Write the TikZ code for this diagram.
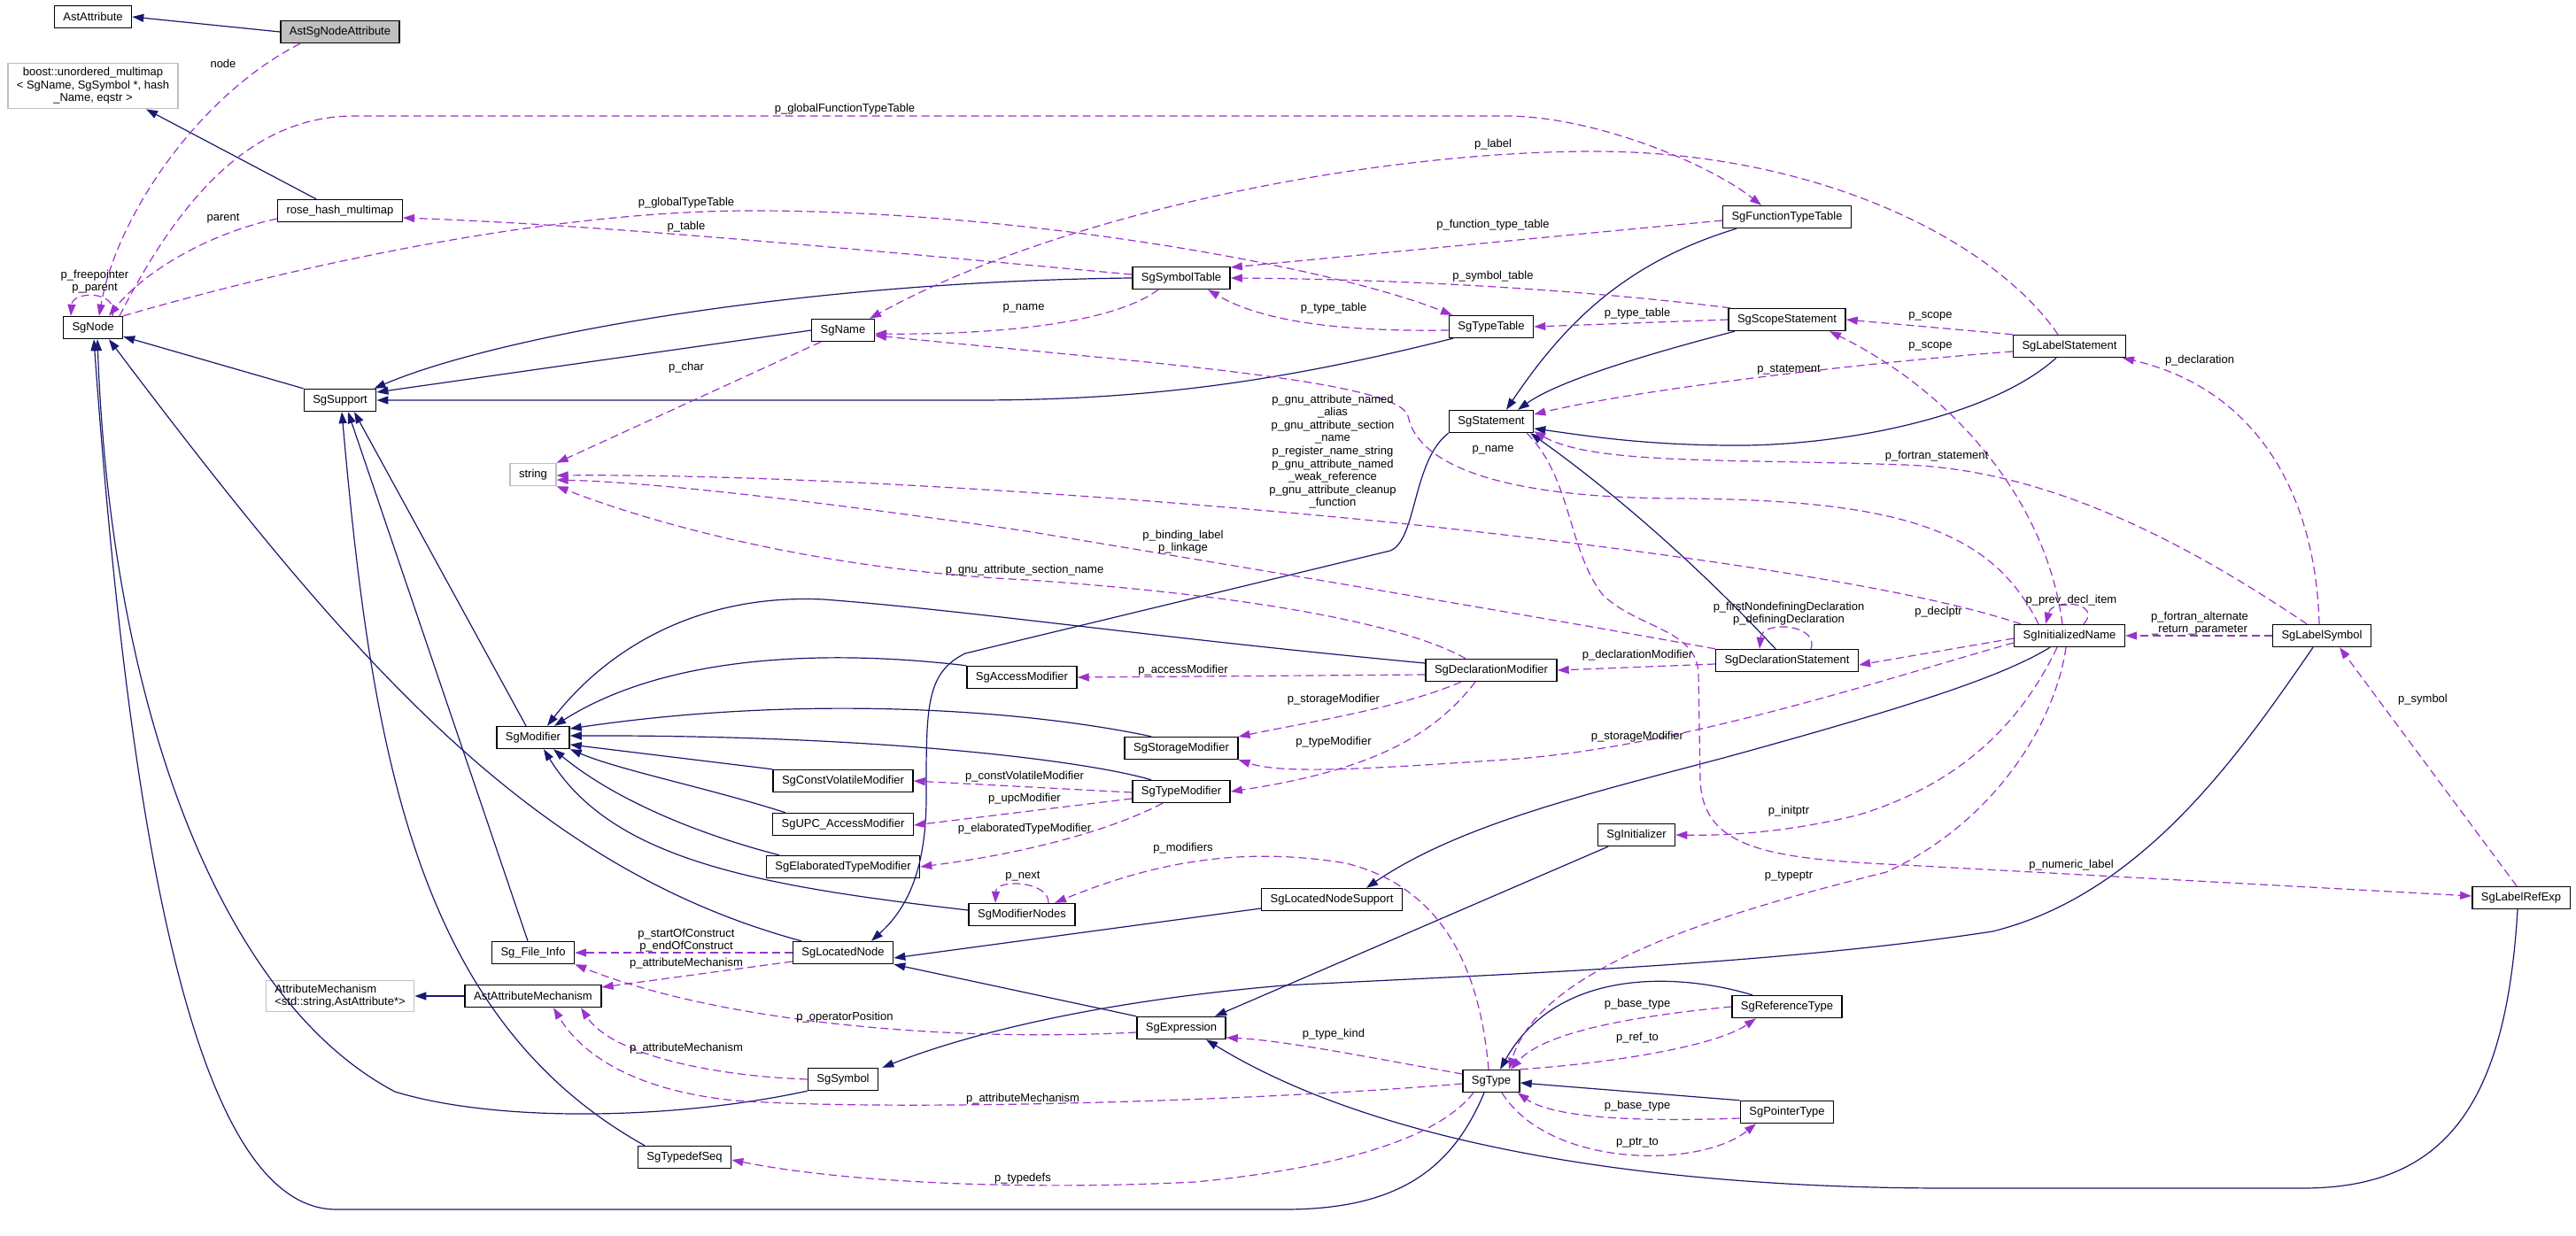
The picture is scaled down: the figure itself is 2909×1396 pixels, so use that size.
\documentclass[tikz,border=0pt]{standalone}
\usepackage{fontspec}
\setmainfont{Liberation Sans}
\usetikzlibrary{arrows.meta}
\definecolor{inherit}{HTML}{191970}
\definecolor{usage}{HTML}{9A32CD}
\definecolor{extgray}{HTML}{BFBFBF}

\begin{document}
\begin{tikzpicture}[x=1pt,y=-1pt,
  every node/.style={font=\fontsize{13}{14.6}\selectfont},
  cls/.style={draw=black, line width=1.4pt, fill=white, inner xsep=10pt, inner ysep=0pt, minimum height=25pt},
  ext/.style={cls, draw=extgray},
  base/.style={draw=inherit, line width=1.2pt, -{Triangle[length=13pt,width=9pt]}},
  uses/.style={draw=usage, line width=1.2pt, dash pattern=on 9pt off 5pt, -{Triangle[length=13pt,width=9pt]}},
  lbl/.style={inner sep=0pt, align=center}]
\path[use as bounding box, fill=white] (0,0) rectangle (2909,1396);

% classes
\node[cls] (AstAttribute) at (105,19) {AstAttribute};
\node[cls, fill=extgray] (AstSgNodeAttribute) at (384,36) {AstSgNodeAttribute};
\node[ext, align=center, inner ysep=5pt] (boost) at (105,97) {boost::unordered\_multimap\\< SgName, SgSymbol *, hash\\\_Name, eqstr >};
\node[cls] (rosemap) at (384,238) {rose\_hash\_multimap};
\node[cls] (SgNode) at (105,370) {SgNode};
\node[cls] (SgSupport) at (384,452) {SgSupport};
\node[ext] (str) at (602,536) {string};
\node[cls] (SgModifier) at (602,833) {SgModifier};
\node[cls] (SgFileInfo) at (602,1076) {Sg\_File\_Info};
\node[ext, align=left, inner ysep=4pt] (AttrMech) at (384,1125) {AttributeMechanism\\<std::string,AstAttribute*>};
\node[cls] (AAM) at (602,1125) {AstAttributeMechanism};
\node[cls] (TypedefSeq) at (773,1307) {SgTypedefSeq};
\node[cls] (SgName) at (952,373) {SgName};
\node[cls] (CVModifier) at (952,882) {SgConstVolatileModifier};
\node[cls] (UPCModifier) at (952,931) {SgUPC\_AccessModifier};
\node[cls] (ElabModifier) at (952,979) {SgElaboratedTypeModifier};
\node[cls] (LocatedNode) at (952,1076) {SgLocatedNode};
\node[cls] (SgSymbol) at (952,1219) {SgSymbol};
\node[cls] (AccessModifier) at (1154,765) {SgAccessModifier};
\node[cls] (ModifierNodes) at (1154,1033) {SgModifierNodes};
\node[cls] (SymbolTable) at (1334,314) {SgSymbolTable};
\node[cls] (StorageModifier) at (1334,845) {SgStorageModifier};
\node[cls] (TypeModifier) at (1334,894) {SgTypeModifier};
\node[cls] (SgExpression) at (1334,1161) {SgExpression};
\node[cls] (LNSupport) at (1504,1016) {SgLocatedNodeSupport};
\node[cls] (TypeTable) at (1684,369) {SgTypeTable};
\node[cls] (SgStatement) at (1684,476) {SgStatement};
\node[cls] (DeclModifier) at (1684,757) {SgDeclarationModifier};
\node[cls] (SgType) at (1684,1221) {SgType};
\node[cls] (SgInitializer) at (1848,943) {SgInitializer};
\node[cls] (FTT) at (2018,245) {SgFunctionTypeTable};
\node[cls] (Scope) at (2018,361) {SgScopeStatement};
\node[cls] (DeclStatement) at (2018,746) {SgDeclarationStatement};
\node[cls] (RefType) at (2018,1137) {SgReferenceType};
\node[cls] (PointerType) at (2018,1256) {SgPointerType};
\node[cls] (LabelStatement) at (2337,391) {SgLabelStatement};
\node[cls] (InitName) at (2337,718) {SgInitializedName};
\node[cls] (LabelSymbol) at (2622,718) {SgLabelSymbol};
\node[cls] (LabelRefExp) at (2847,1014) {SgLabelRefExp};

% inheritance
\draw[base] (AstSgNodeAttribute.west) -- (AstAttribute.east);
\draw[base] ([xshift=-27]rosemap.north) -- ([xshift=60]boost.south);
\draw[base] (SgSupport.north west) -- ([yshift=3]SgNode.south east);
\draw[base] (SymbolTable.west) .. controls (900,318) and (560,380) .. ([xshift=-3]SgSupport.north east);
\draw[base] (SgName.west) -- ([yshift=9]SgSupport.east);
\draw[base] ([xshift=5]TypeTable.south west) .. controls (1450,430) and (1300,452) .. (1100,452) -- (SgSupport.east);
\draw[base] ([xshift=-8]SgModifier.north) -- ([xshift=16]SgSupport.south);
\draw[base] ([xshift=-6]SgFileInfo.north) -- ([xshift=9]SgSupport.south);
\draw[base] ([xshift=-45]TypedefSeq.north) .. controls (470,1150) and (420,850) .. ([xshift=2]SgSupport.south);
\draw[base] ([xshift=-47]LocatedNode.north) .. controls (600,980) and (400,750) .. ([xshift=18]SgNode.south);
\draw[base] (SgSymbol.south west) .. controls (760,1265) and (560,1268) .. (446,1233) .. controls (250,1130) and (125,800) .. ([xshift=5]SgNode.south);
\draw[base] ([xshift=-8]SgType.south) .. controls (1640,1320) and (1580,1366) .. (1450,1366) -- (380,1366) .. controls (230,1366) and (150,1000) .. ([xshift=1]SgNode.south);
\draw[base] (SgStatement.south west) .. controls (1595,520) and (1600,610) .. (1570,622) -- (1090,738) .. controls (1045,760) and (1046,800) .. (1046,900) .. controls (1046,990) and (1020,1030) .. ([xshift=32]LocatedNode.north);
\draw[base] ([xshift=-57]FTT.south) .. controls (1840,295) and (1770,360) .. ([xshift=17]SgStatement.north);
\draw[base] ([xshift=-59]Scope.south) .. controls (1860,400) and (1760,430) .. ([xshift=30]SgStatement.north);
\draw[base] ([xshift=-15]LabelStatement.south) .. controls (2250,470) and (2080,505) .. (1950,503) .. controls (1850,502) and (1790,492) .. ([yshift=-8]SgStatement.east);
\draw[base] ([xshift=-13]DeclStatement.north) .. controls (1900,620) and (1800,540) .. ([xshift=-4]SgStatement.south east);
\draw[base] ([xshift=-22]InitName.south) .. controls (2260,765) and (2150,800) .. (1950,855) .. controls (1800,895) and (1650,930) .. ([xshift=39]LNSupport.north);
\draw[base] ([yshift=-10]LNSupport.west) -- ([yshift=-6]LocatedNode.east);
\draw[base] (SgExpression.north west) -- (LocatedNode.south east);
\draw[base] ([xshift=-10]LabelSymbol.south) .. controls (2530,850) and (2420,1010) .. (2250,1052) .. controls (2000,1090) and (1700,1100) .. (1450,1113) .. controls (1250,1130) and (1100,1165) .. ([xshift=4]SgSymbol.north east);
\draw[base] ([xshift=-4]LabelRefExp.south) .. controls (2830,1250) and (2760,1342) .. (2600,1342) -- (2200,1342) .. controls (1850,1342) and (1550,1290) .. ([xshift=28]SgExpression.south);
\draw[base] ([xshift=-32]SgInitializer.south) -- ([xshift=38]SgExpression.north);
\draw[base] ([xshift=-39]RefType.north) .. controls (1900,1100) and (1760,1090) .. ([xshift=10]SgType.north);
\draw[base] (PointerType.north west) -- ([yshift=-2]SgType.east);
\draw[base] (AAM.west) -- (AttrMech.east);
\draw[base] ([yshift=8]DeclModifier.west) .. controls (1300,720) and (1100,690) .. (930,677) .. controls (780,670) and (680,740) .. ([xshift=16]SgModifier.north);
\draw[base] (AccessModifier.north west) .. controls (950,735) and (760,735) .. ([xshift=24]SgModifier.north);
\draw[base] ([xshift=-34]StorageModifier.north) .. controls (1150,800) and (900,785) .. ([yshift=10]SgModifier.east);
\draw[base] ([xshift=-34]TypeModifier.north) .. controls (1230,860) and (1000,830) .. ([yshift=2]SgModifier.east);
\draw[base] (CVModifier.north west) -- ([yshift=-8]SgModifier.east);
\draw[base] ([xshift=-65]UPCModifier.north) .. controls (800,890) and (700,870) .. (SgModifier.south east);
\draw[base] ([xshift=-72]ElabModifier.north) .. controls (780,940) and (690,900) .. ([xshift=23]SgModifier.south);
\draw[base] ([yshift=5]ModifierNodes.west) .. controls (850,1000) and (690,970) .. ([xshift=12]SgModifier.south);

% members
\draw[uses] ([xshift=-45]AstSgNodeAttribute.south) .. controls (220,110) and (130,250) .. ([xshift=7]SgNode.north);
\draw[uses] ([yshift=-9]rosemap.west) .. controls (230,265) and (160,310) .. ([xshift=18]SgNode.north);
\draw[uses] ([xshift=22]SgNode.north) .. controls (135,328) and (82,328) .. ([xshift=-25]SgNode.north);
\draw[uses] ([xshift=30]SgNode.north) .. controls (200,230) and (280,131) .. (400,131) -- (1700,131) .. controls (1800,131) and (1930,185) .. ([xshift=-29]FTT.north);
\draw[uses] (SgNode.north east) .. controls (300,310) and (600,238) .. (850,238) .. controls (1150,238) and (1500,300) .. ([xshift=-44]TypeTable.north);
\draw[uses] ([yshift=4]SymbolTable.west) .. controls (1000,285) and (700,255) .. ([yshift=-8]rosemap.east);
\draw[uses] ([yshift=-4]FTT.west) -- ([yshift=12]SymbolTable.east);
\draw[uses] ([xshift=-64]Scope.north) .. controls (1850,335) and (1650,316) .. (SymbolTable.east);
\draw[uses] ([yshift=-4]TypeTable.west) .. controls (1500,375) and (1420,360) .. ([xshift=30]SymbolTable.south);
\draw[uses] (Scope.west) -- (TypeTable.east);
\draw[uses] ([xshift=-26]SymbolTable.south) .. controls (1250,370) and (1100,378) .. ([yshift=-4]SgName.east);
\draw[uses] ([xshift=-13]LabelStatement.north) .. controls (2250,270) and (2050,171) .. (1800,171) .. controls (1550,171) and (1200,240) .. ([xshift=30]SgName.north);
\draw[uses] ([xshift=-25]SgName.south) -- (str.north east);
\draw[uses] ([xshift=-55]InitName.north) .. controls (2150,660) and (1850,620) .. (1600,593) .. controls (1300,562) and (900,535) .. ([yshift=-1]str.east);
\draw[uses] (DeclStatement.north west) .. controls (1700,690) and (1400,640) .. (1160,600) .. controls (950,570) and (750,545) .. ([yshift=-6]str.east);
\draw[uses] ([xshift=-29]DeclModifier.north) .. controls (1600,712) and (1450,675) .. (1160,655) .. controls (950,645) and (760,600) .. (str.south east);
\draw[uses] ([xshift=-8]InitName.north) .. controls (2310,560) and (2200,440) .. ([xshift=48]Scope.south);
\draw[uses] ([xshift=-35]InitName.north) .. controls (2250,600) and (2150,565) .. (1900,563) .. controls (1680,563) and (1600,520) .. (1590,470) .. controls (1580,430) and (1300,410) .. ([yshift=-6]SgName.east);
\draw[uses] ([xshift=16]InitName.north) .. controls (2375,680) and (2318,675) .. ([xshift=-27]InitName.north);
\draw[uses] ([yshift=-3]InitName.west) -- ([yshift=-5]DeclStatement.east);
\draw[uses] ([yshift=-8]InitName.west) .. controls (2150,760) and (1900,845) .. (1700,858) .. controls (1550,868) and (1450,875) .. (StorageModifier.south east);
\draw[uses] ([xshift=-34]DeclModifier.south) .. controls (1580,800) and (1480,815) .. ([yshift=13]StorageModifier.east);
\draw[uses] ([xshift=-18]DeclModifier.south) .. controls (1620,830) and (1550,870) .. (TypeModifier.east);
\draw[uses] ([yshift=-5]DeclModifier.west) -- (AccessModifier.east);
\draw[uses] ([yshift=-4]DeclStatement.west) -- (DeclModifier.east);
\draw[uses] ([xshift=27]DeclStatement.north) .. controls (2055,705) and (1990,700) .. ([xshift=-31]DeclStatement.north);
\draw[uses] ([xshift=-14]InitName.south) .. controls (2290,800) and (2230,880) .. (2100,920) .. controls (2020,940) and (1950,944) .. (SgInitializer.east);
\draw[uses] ([xshift=-4]InitName.south) .. controls (2320,820) and (2250,930) .. (2130,985) .. controls (1950,1030) and (1740,1090) .. ([xshift=20]SgType.north);
\draw[uses] (LabelSymbol.west) -- (InitName.east);
\draw[uses] ([xshift=-3]LabelSymbol.north) .. controls (2615,560) and (2550,440) .. ([xshift=60]LabelStatement.south);
\draw[uses] ([xshift=-17]LabelSymbol.north) .. controls (2450,600) and (2300,530) .. (2150,525) .. controls (1950,518) and (1800,525) .. ([yshift=2]SgStatement.south east);
\draw[uses] (LabelStatement.north west) -- (Scope.east);
\draw[uses] ([yshift=-6]LabelStatement.west) .. controls (2100,410) and (1850,440) .. ([yshift=8]SgStatement.east);
\draw[uses] ([xshift=-5]LabelRefExp.north) -- ([xshift=20]LabelSymbol.south);
\draw[uses] ([xshift=-8]SgStatement.south east) .. controls (1775,540) and (1770,620) .. (1810,672) .. controls (1850,710) and (1915,710) .. (1918,760) -- (1920,880) .. controls (1922,960) and (2000,970) .. (2150,977) -- ([yshift=2]LabelRefExp.west);
\draw[uses] ([yshift=8]SgType.west) .. controls (1550,1195) and (1450,1175) .. ([yshift=-11]SgExpression.east);
\draw[uses] ([yshift=-3]SgType.west) .. controls (1400,1245) and (1000,1255) .. (830,1243) .. controls (700,1230) and (650,1180) .. ([xshift=23]AAM.south);
\draw[uses] (SgSymbol.west) .. controls (800,1215) and (690,1190) .. ([xshift=54]AAM.south);
\draw[uses] (LocatedNode.west) -- (SgFileInfo.east);
\draw[uses] ([yshift=-10]LocatedNode.west) -- ([yshift=10]AAM.east);
\draw[uses] ([yshift=-5]SgExpression.west) .. controls (1050,1178) and (800,1150) .. (SgFileInfo.south east);
\draw[uses] ([yshift=-1]TypeModifier.west) -- (CVModifier.east);
\draw[uses] ([yshift=-8]TypeModifier.west) -- ([yshift=-1]UPCModifier.east);
\draw[uses] ([xshift=-21]TypeModifier.south) .. controls (1250,940) and (1150,965) .. (ElabModifier.east);
\draw[uses] ([xshift=30]ModifierNodes.north) .. controls (1185,995) and (1125,992) .. ([xshift=-30]ModifierNodes.north);
\draw[uses] ([xshift=-3]SgType.north) .. controls (1670,1080) and (1620,1000) .. (1520,975) .. controls (1400,955) and (1300,975) .. ([xshift=37]ModifierNodes.north);
\draw[uses] ([xshift=-20]SgType.south) .. controls (1620,1290) and (1500,1320) .. (1350,1335) .. controls (1150,1345) and (950,1335) .. ([yshift=-3]TypedefSeq.east);
\draw[uses] (RefType.west) .. controls (1820,1150) and (1740,1170) .. ([xshift=22]SgType.north);
\draw[uses] (SgType.north east) .. controls (1830,1200) and (1940,1180) .. ([xshift=-35]RefType.south);
\draw[uses] ([yshift=-7]PointerType.west) .. controls (1830,1268) and (1750,1260) .. ([xshift=-3]SgType.south east);
\draw[uses] ([xshift=12]SgType.south) .. controls (1750,1320) and (1920,1320) .. ([xshift=-35]PointerType.south);

% member names
\node[lbl] (lnode) at (252,72) {node};
\node[lbl] (lparent) at (252,247) {parent};
\node[lbl] (lfree) at (107,318) {p\_freepointer\\p\_parent};
\node[lbl] (lgft) at (954,123) {p\_globalFunctionTypeTable};
\node[lbl] (lgtt) at (775,229) {p\_globalTypeTable};
\node[lbl] (ltable) at (775,256) {p\_table};
\node[lbl] (lchar) at (775,415) {p\_char};
\node[lbl] (lname) at (1156,348) {p\_name};
\node[lbl] (llabel) at (1686,163) {p\_label};
\node[lbl] (lftt) at (1686,254) {p\_function\_type\_table};
\node[lbl] (lsymtab) at (1686,312) {p\_symbol\_table};
\node[lbl] (ltypetab) at (1506,348) {p\_type\_table};
\node[lbl] (ltypetabb) at (1849,354) {p\_type\_table};
\node[lbl] (lscope) at (2180,357) {p\_scope};
\node[lbl] (lscopeb) at (2180,391) {p\_scope};
\node[lbl] (lstmt) at (2020,418) {p\_statement};
\node[lbl] (ldecl) at (2484,407) {p\_declaration};
\node[lbl] (lnameb) at (1686,508) {p\_name};
\node[lbl] (lgnu) at (1505,510) {p\_gnu\_attribute\_named\\\_alias\\p\_gnu\_attribute\_section\\\_name\\p\_register\_name\_string\\p\_gnu\_attribute\_named\\\_weak\_reference\\p\_gnu\_attribute\_cleanup\\\_function};
\node[lbl] (lfstmt) at (2187,515) {p\_fortran\_statement};
\node[lbl] (lbind) at (1336,612) {p\_binding\_label\\p\_linkage};
\node[lbl] (lsect) at (1157,644) {p\_gnu\_attribute\_section\_name};
\node[lbl] (laccess) at (1336,757) {p\_accessModifier};
\node[lbl] (ldeclmod) at (1849,740) {p\_declarationModifier};
\node[lbl] (ldefining) at (2020,693) {p\_firstNondefiningDeclaration\\p\_definingDeclaration};
\node[lbl] (ldeclptr) at (2189,691) {p\_declptr};
\node[lbl] (lprev) at (2339,678) {p\_prev\_decl\_item};
\node[lbl] (lalt) at (2484,704) {p\_fortran\_alternate\\\_return\_parameter};
\node[lbl] (lstor) at (1506,790) {p\_storageModifier};
\node[lbl] (ltypemod) at (1506,838) {p\_typeModifier};
\node[lbl] (lstorb) at (1849,832) {p\_storageModifier};
\node[lbl] (lcv) at (1157,877) {p\_constVolatileModifier};
\node[lbl] (lupc) at (1157,902) {p\_upcModifier};
\node[lbl] (lelab) at (1157,936) {p\_elaboratedTypeModifier};
\node[lbl] (lmods) at (1336,958) {p\_modifiers};
\node[lbl] (lnext) at (1155,990) {p\_next};
\node[lbl] (linit) at (2020,916) {p\_initptr};
\node[lbl] (ltypeptr) at (2020,990) {p\_typeptr};
\node[lbl] (lnum) at (2339,977) {p\_numeric\_label};
\node[lbl] (lsym) at (2736,790) {p\_symbol};
\node[lbl] (lstart) at (775,1062) {p\_startOfConstruct\\p\_endOfConstruct};
\node[lbl] (lattr) at (775,1088) {p\_attributeMechanism};
\node[lbl] (lopos) at (954,1149) {p\_operatorPosition};
\node[lbl] (lkind) at (1506,1168) {p\_type\_kind};
\node[lbl] (lattrb) at (775,1184) {p\_attributeMechanism};
\node[lbl] (lattrc) at (1155,1241) {p\_attributeMechanism};
\node[lbl] (lbase) at (1849,1134) {p\_base\_type};
\node[lbl] (lref) at (1849,1172) {p\_ref\_to};
\node[lbl] (lbaseb) at (1849,1249) {p\_base\_type};
\node[lbl] (lptr) at (1849,1291) {p\_ptr\_to};
\node[lbl] (ltypedefs) at (1155,1331) {p\_typedefs};
\end{tikzpicture}
\end{document}
